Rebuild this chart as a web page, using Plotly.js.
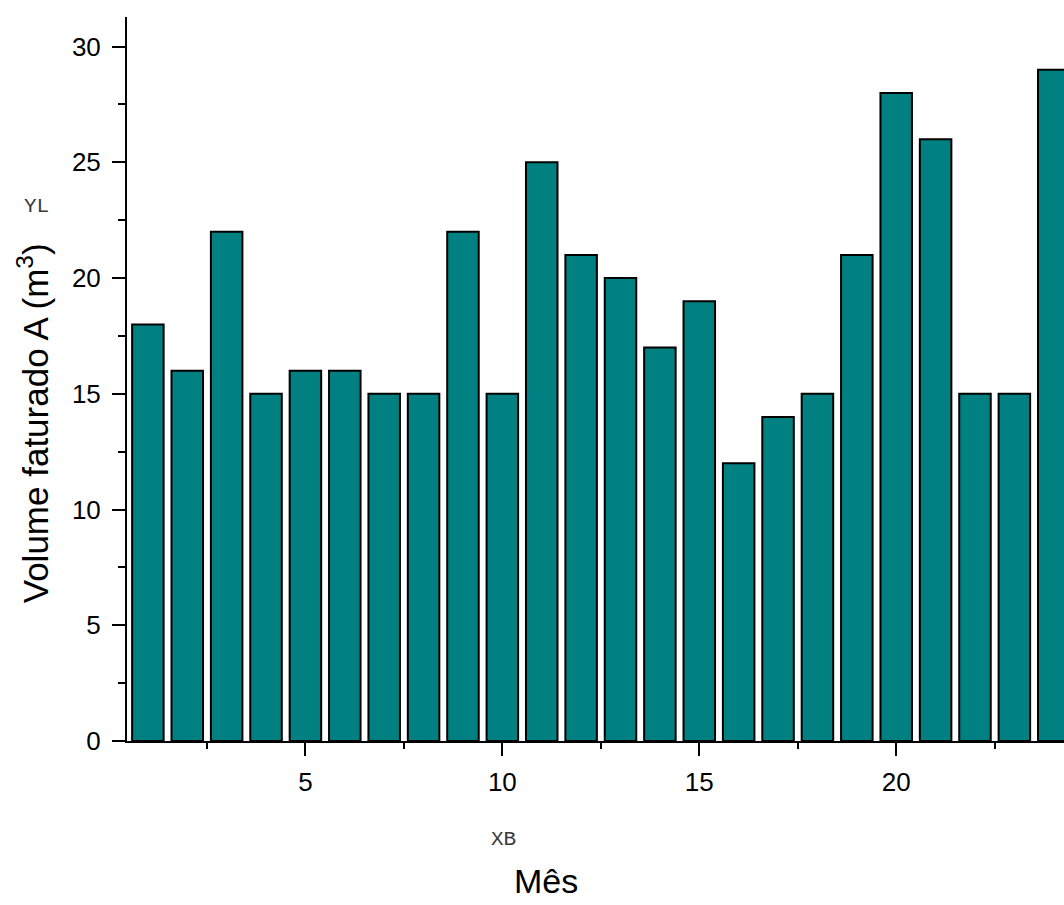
<!DOCTYPE html>
<html>
<head>
<meta charset="utf-8">
<script src="https://cdn.plot.ly/plotly-3.0.1.min.js"></script>
<style>
  html, body { margin: 0; padding: 0; background: #ffffff; }
  #chart { width: 1064px; height: 905px; }
</style>
</head>
<body>
<div id="chart"></div>
<script>
// Monthly billed volume (m³), month index 1..24
const meses = [1, 2, 3, 4, 5, 6, 7, 8, 9, 10, 11, 12, 13, 14, 15, 16, 17, 18, 19, 20, 21, 22, 23, 24];
const volume = [18, 16, 22, 15, 16, 16, 15, 15, 22, 15, 25, 21, 20, 17, 19, 12, 14, 15, 21, 28, 26, 15, 15, 29];

const xTitle = 'Mês';
const yTitle = 'Volume faturado A (m<sup>3</sup>)';

const W = 1064, H = 905;
const mL = 126.5, mT = 17, mB = 163.5, mR = 0;
const plotW = W - mL - mR, plotH = H - mT - mB;
// pixel -> paper helpers for free text placement
const px = x => (x - mL) / plotW;
const py = y => (H - mB - y) / plotH;

const font = 'Liberation Sans, Arial, sans-serif';
const monoFont = '"Courier New", "Nimbus Mono PS", "Nimbus Mono L", FreeMono, "Liberation Mono", monospace';

const trace = {
  type: 'bar',
  x: meses,
  y: volume,
  width: 0.8,
  marker: { color: '#008080', line: { color: '#000000', width: 2 } },
  hoverinfo: 'x+y'
};

const axisCommon = {
  showgrid: false,
  zeroline: false,
  showline: true,
  linecolor: '#000000',
  linewidth: 2,
  ticks: 'outside',
  ticklen: 13,
  tickwidth: 2,
  tickcolor: '#000000',
  tickfont: { family: font, size: 26, color: '#000000' },
  mirror: false
};

const layout = {
  width: W,
  height: H,
  margin: { l: mL, r: mR, t: mT, b: mB, pad: 0 },
  paper_bgcolor: '#ffffff',
  plot_bgcolor: '#ffffff',
  showlegend: false,
  bargap: 0.2,
  xaxis: Object.assign({}, axisCommon, {
    range: [0.47, 24.26],
    tickmode: 'linear',
    tick0: 0,
    dtick: 5,
    ticklabelstandoff: 4,
    minor: { dtick: 2.5, tick0: 0, ticks: 'outside', ticklen: 6, tickwidth: 2, tickcolor: '#000000' }
  }),
  yaxis: Object.assign({}, axisCommon, {
    range: [0, 31.28],
    tickmode: 'linear',
    tick0: 0,
    dtick: 5,
    ticklabelstandoff: 6,
    minor: { dtick: 2.5, tick0: 0, ticks: 'outside', ticklen: 7, tickwidth: 2, tickcolor: '#000000' }
  }),
  annotations: [
    {
      text: yTitle, xref: 'paper', yref: 'paper',
      x: px(32), y: py(424), xanchor: 'center', yanchor: 'middle',
      textangle: -90, showarrow: false,
      font: { family: font, size: 35, color: '#000000' }
    },
    {
      text: xTitle, xref: 'paper', yref: 'paper',
      x: px(546), y: py(882), xanchor: 'center', yanchor: 'middle',
      showarrow: false,
      font: { family: font, size: 34, color: '#000000' }
    },
    {
      text: 'YL', xref: 'paper', yref: 'paper',
      x: px(36), y: py(207), xanchor: 'center', yanchor: 'middle',
      showarrow: false,
      font: { family: monoFont, size: 21, color: '#3a3a3a' }
    },
    {
      text: 'XB', xref: 'paper', yref: 'paper',
      x: px(503), y: py(840), xanchor: 'center', yanchor: 'middle',
      showarrow: false,
      font: { family: monoFont, size: 21, color: '#3a3a3a' }
    }
  ]
};

Plotly.newPlot('chart', [trace], layout, { displayModeBar: false, staticPlot: true });
</script>
</body>
</html>
